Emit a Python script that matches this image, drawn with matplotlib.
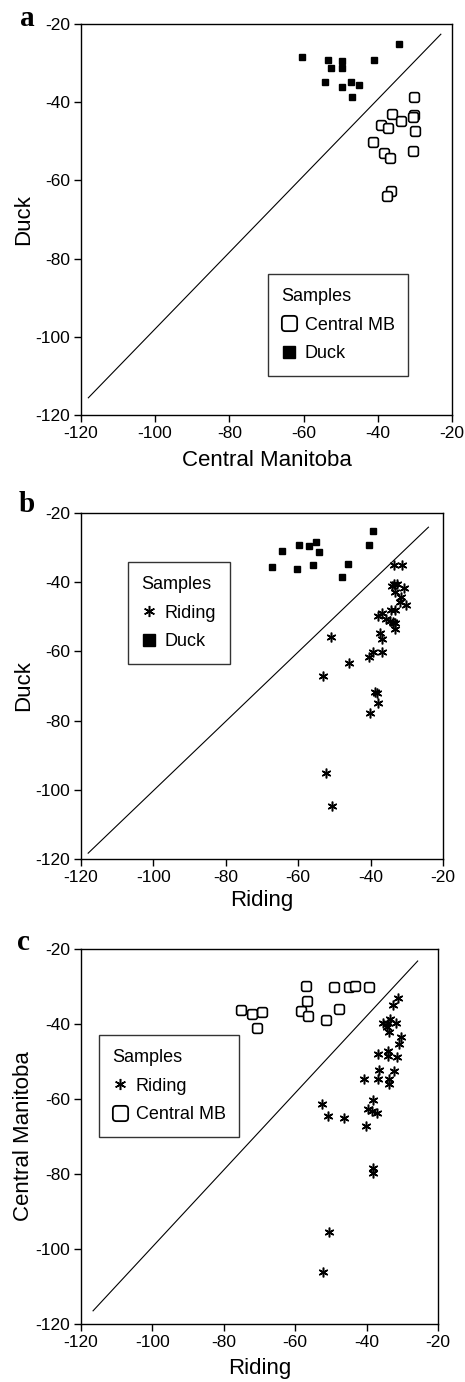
import numpy as np  # numerical arrays
import matplotlib
matplotlib.use("Agg")
import matplotlib.pyplot as plt  # plotting
from matplotlib.path import Path
from matplotlib.lines import Line2D

plt.rcParams['font.family'] = ['Liberation Sans', 'DejaVu Sans']
plt.rcParams['axes.unicode_minus'] = False  # plain hyphen minus signs like the original

# ---------------- data ----------------
# Panel a: Central Manitoba (x) vs Duck (y)
a_cmb_x = [-30.2, -36.1, -30.2, -30.4, -33.7, -39.1, -37.2, -29.9, -41.2, -38.2, -36.7, -30.4, -36.4, -37.6]
a_cmb_y = [-38.7, -42.9, -43.3, -43.9, -44.8, -45.7, -46.7, -47.3, -50.2, -53.0, -54.2, -52.4, -62.6, -64.1]
a_duck_x = [-60.4, -53.3, -52.7, -49.6, -49.6, -54.2, -49.6, -47.2, -45.1, -46.9, -40.9, -34.3]
a_duck_y = [-28.4, -29.2, -31.2, -29.5, -31.3, -34.9, -36.2, -34.7, -35.6, -38.7, -29.1, -25.0]
a_line_x = [-118, -23]
a_line_y = [-115.6, -22.6]

# Panel b: Riding (x) vs Duck (y)
b_riding_x = [-33.4, -31.3, -33.4, -32.6, -34.2, -30.8, -33.3, -31.5, -31.9, -30.3, -34.4, -33.3,
              -38.0, -36.8, -35.6, -34.6, -33.7, -33.3, -33.3, -37.4, -36.8, -50.8, -39.4, -36.8,
              -40.5, -46.0, -53.1, -38.8, -38.2, -37.9, -40.2, -52.3, -50.6]
b_riding_y = [-35.0, -35.0, -40.6, -40.6, -41.0, -41.6, -42.7, -44.2, -45.8, -46.6, -48.0, -48.0,
              -49.7, -48.9, -50.6, -51.2, -51.4, -51.9, -53.5, -54.8, -56.4, -55.7, -60.1, -60.1,
              -61.7, -63.3, -67.1, -71.8, -72.1, -75.0, -77.9, -95.0, -104.8]
b_duck_x = [-39.3, -40.4, -55.1, -56.9, -59.7, -64.5, -54.2, -67.2, -60.2, -56.0, -46.2, -47.8]
b_duck_y = [-25.1, -29.2, -28.3, -29.5, -29.2, -31.0, -31.4, -35.6, -36.2, -35.0, -34.7, -38.6]
b_line_x = [-118, -24]
b_line_y = [-118.3, -24.1]

# Panel c: Riding (x) vs Central Manitoba (y)
c_riding_x = [-31.3, -32.7, -33.4, -35.3, -33.9, -31.9, -34.4, -33.7, -30.3, -31.0, -36.9, -34.1,
              -34.1, -31.6, -36.6, -32.3, -40.6, -36.9, -33.6, -33.6, -52.5, -38.1, -39.5, -38.5,
              -37.2, -50.7, -46.3, -40.3, -38.1, -38.3, -50.5, -52.1]
c_riding_y = [-33.1, -34.9, -38.7, -39.8, -39.6, -39.8, -40.9, -42.2, -43.5, -45.3, -48.1, -47.1,
              -48.5, -48.9, -52.3, -52.5, -54.7, -54.7, -54.7, -56.1, -61.3, -60.3, -62.7, -63.3,
              -63.8, -64.6, -65.2, -67.3, -78.5, -79.8, -95.5, -106.2]
c_cmb_x = [-57.1, -49.0, -45.0, -43.2, -39.3, -75.1, -72.1, -69.3, -70.7, -56.7, -58.4, -56.4, -47.8, -51.4]
c_cmb_y = [-29.9, -30.2, -30.0, -29.9, -30.2, -36.2, -37.4, -36.9, -41.1, -33.8, -36.5, -37.8, -36.0, -38.8]
c_line_x = [-116.6, -25.7]
c_line_y = [-116.5, -23.2]

ticks = [-120, -100, -80, -60, -40, -20]


# rounded square marker used for the open "Central MB" symbols
def rounded_square(r=0.45):
    verts = [(-1 + r, -1), (1 - r, -1), (1, -1), (1, -1 + r), (1, 1 - r), (1, 1), (1 - r, 1),
             (-1 + r, 1), (-1, 1), (-1, 1 - r), (-1, -1 + r), (-1, -1), (-1 + r, -1), (-1 + r, -1)]
    codes = [Path.MOVETO, Path.LINETO, Path.CURVE3, Path.CURVE3, Path.LINETO, Path.CURVE3, Path.CURVE3,
             Path.LINETO, Path.CURVE3, Path.CURVE3, Path.LINETO, Path.CURVE3, Path.CURVE3, Path.CLOSEPOLY]
    return Path(verts, codes)


RSQ = rounded_square()
STAR = (6, 2, 0)  # six-armed asterisk


def style_axes(ax, xlabel, ylabel, label_x):
    ax.set_xlim(-120, -20)
    ax.set_ylim(-120, -20)
    ax.set_xticks(ticks)
    ax.set_yticks(ticks)
    ax.tick_params(direction='out', length=5, width=1, labelsize=12.5, top=False, right=False, pad=3)
    for s in ax.spines.values():
        s.set_linewidth(1.0)
    ax.set_xlabel(xlabel, fontsize=16)
    ax.set_ylabel(ylabel, fontsize=16)
    ax.xaxis.set_label_coords(0.5, -0.09)
    ax.yaxis.set_label_coords(label_x, 0.5)


def open_sq(size):
    return Line2D([], [], linestyle='none', marker=RSQ, markersize=size, markerfacecolor='white',
                  markeredgecolor='black', markeredgewidth=1.3)


def filled_sq(size):
    return Line2D([], [], linestyle='none', marker='s', markersize=size, color='black')


def star(size):
    return Line2D([], [], linestyle='none', marker=STAR, markersize=size, color='black', markeredgewidth=1.1)


def add_legend(ax, handles, labels, anchor):
    leg = ax.legend(handles, labels, title='Samples', loc='lower left', bbox_to_anchor=anchor,
                    borderaxespad=0, fontsize=13, title_fontsize=13, frameon=True, fancybox=False,
                    edgecolor='black', handlelength=0.8, handletextpad=0.5, labelspacing=0.65,
                    borderpad=0.75, alignment='left')
    leg.get_frame().set_linewidth(1.0)


fig = plt.figure(figsize=(4.65, 13.82), dpi=100)

# ---------------- panel a ----------------
ax1 = fig.add_axes([0.174, 0.6997, 0.798, 0.2829])
ax1.plot(a_line_x, a_line_y, color='black', linewidth=0.8)
ax1.plot(a_cmb_x, a_cmb_y, linestyle='none', marker=RSQ, markersize=7, markerfacecolor='white',
         markeredgecolor='black', markeredgewidth=1.2)
ax1.plot(a_duck_x, a_duck_y, linestyle='none', marker='s', markersize=4, color='black')
style_axes(ax1, 'Central Manitoba', 'Duck', -0.125)
add_legend(ax1, [open_sq(11), filled_sq(8)], ['Central MB', 'Duck'], (0.504, 0.10))

# ---------------- panel b ----------------
ax2 = fig.add_axes([0.174, 0.3784, 0.7785, 0.2504])
ax2.plot(b_line_x, b_line_y, color='black', linewidth=0.8)
ax2.plot(b_riding_x, b_riding_y, linestyle='none', marker=STAR, markersize=7, color='black',
         markeredgewidth=1.1)
ax2.plot(b_duck_x, b_duck_y, linestyle='none', marker='s', markersize=4, color='black')
style_axes(ax2, 'Riding', 'Duck', -0.128)
add_legend(ax2, [star(8), filled_sq(8)], ['Riding', 'Duck'], (0.13, 0.564))

# ---------------- panel c ----------------
ax3 = fig.add_axes([0.174, 0.0420, 0.768, 0.2713])
ax3.plot(c_line_x, c_line_y, color='black', linewidth=0.8)
ax3.plot(c_cmb_x, c_cmb_y, linestyle='none', marker=RSQ, markersize=7, markerfacecolor='white',
         markeredgecolor='black', markeredgewidth=1.2)
ax3.plot(c_riding_x, c_riding_y, linestyle='none', marker=STAR, markersize=7, color='black',
         markeredgewidth=1.1)
style_axes(ax3, 'Riding', 'Central Manitoba', -0.13)
add_legend(ax3, [star(8), open_sq(11)], ['Riding', 'Central MB'], (0.05, 0.499))

# panel letters
for x, y, t in [(0.043, 0.9812, 'a'), (0.039, 0.6295, 'b'), (0.037, 0.3126, 'c')]:
    fig.text(x, y, t, fontsize=21, fontweight='bold', family='Liberation Serif', va='baseline')

fig.savefig('out.png', dpi=100)
